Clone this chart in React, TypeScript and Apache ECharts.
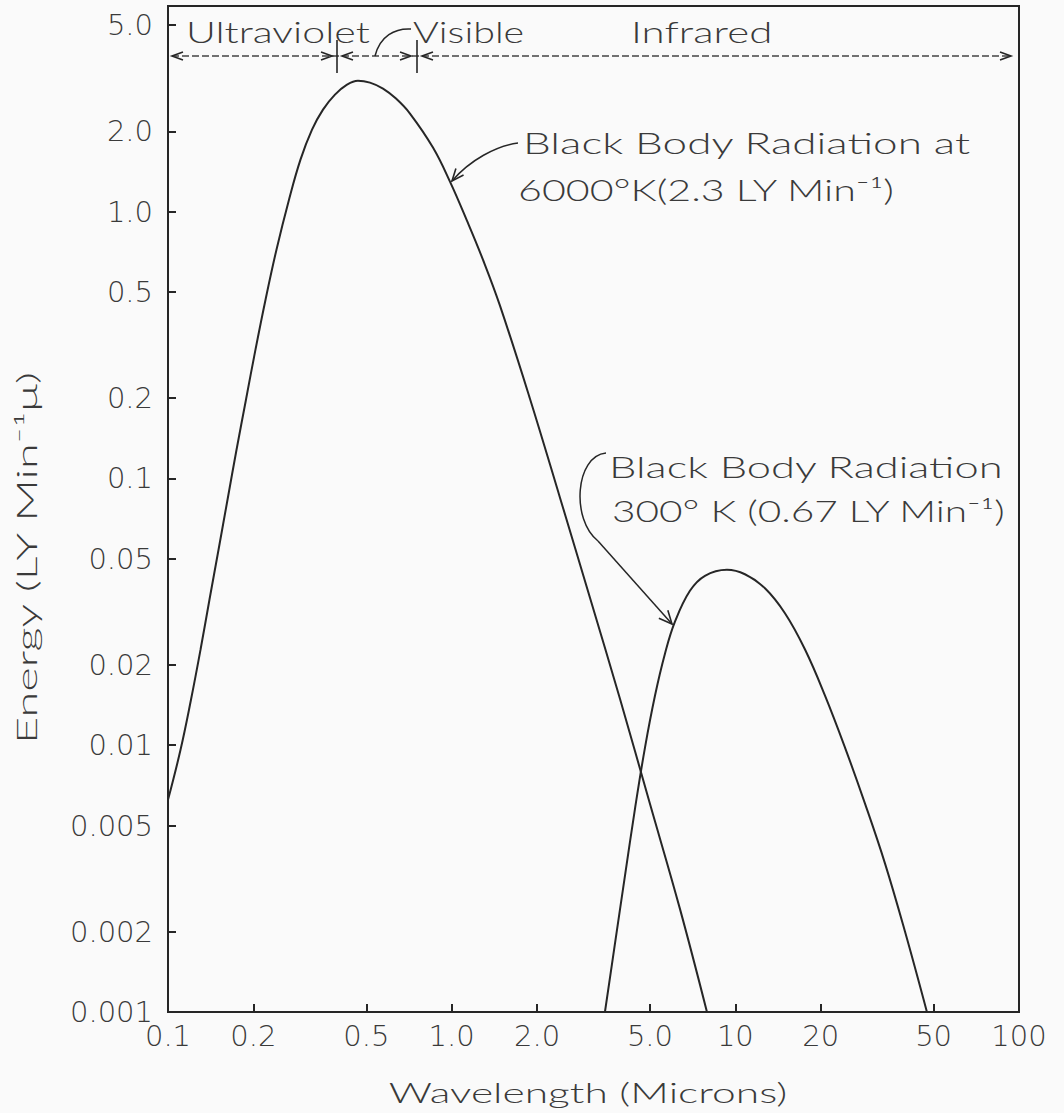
import React, { useEffect, useRef } from 'react';
import * as echarts from 'echarts';

// Black body radiation at 6000 K (wavelength in microns, energy in LY min^-1 micron^-1)
const wavelength6000 = [0.1, 0.1107, 0.1205, 0.1302, 0.14, 0.1507, 0.1621, 0.1744, 0.1883, 0.2034, 0.2207, 0.2412, 0.267, 0.2931, 0.3219, 0.3519, 0.3878, 0.4276, 0.4674, 0.5152, 0.5727, 0.6364, 0.7129, 0.8592, 0.9863, 1.132, 1.289, 1.48, 1.888, 2.409, 3.073, 3.92, 5.0, 6.379, 7.943];
const energy6000 = [0.00624, 0.00961, 0.0148, 0.02279, 0.0351, 0.05403, 0.08321, 0.1281, 0.1973, 0.3039, 0.4677, 0.7203, 1.109, 1.567, 2.03, 2.413, 2.746, 2.994, 3.098, 3.045, 2.892, 2.653, 2.331, 1.738, 1.296, 0.9253, 0.6607, 0.4442, 0.199, 0.0847, 0.0357, 0.01493, 0.00603, 0.002435, 0.001];

// Black body radiation at 300 K
const wavelength300 = [3.47, 3.763, 4.082, 4.428, 4.801, 5.208, 5.648, 6.126, 6.918, 7.814, 9.342, 10.81, 12.72, 14.96, 17.59, 20.69, 24.34, 28.63, 33.69, 39.61, 47.36];
const energy300 = [0.001, 0.0018, 0.003237, 0.005776, 0.009777, 0.01532, 0.02202, 0.02903, 0.03792, 0.04317, 0.04546, 0.04374, 0.03876, 0.03124, 0.02289, 0.01538, 0.00982, 0.006054, 0.003607, 0.002006, 0.001];

const xTickValues = [0.1, 0.2, 0.5, 1, 2, 5, 10, 20, 50, 100];
const xTickLabels = ['0.1', '0.2', '0.5', '1.0', '2.0', '5.0', '10', '20', '50', '100'];
const yTickValues = [0.001, 0.002, 0.005, 0.01, 0.02, 0.05, 0.1, 0.2, 0.5, 1, 2, 5];
const yTickLabels = ['0.001', '0.002', '0.005', '0.01', '0.02', '0.05', '0.1', '0.2', '0.5', '1.0', '2.0', '5.0'];

const X_MIN = 0.1;
const X_MAX = 100;
const Y_MIN = 0.001;
const Y_MAX = 5.9;

const FONT = 'Lato, "DejaVu Sans", sans-serif';
const TICK_FONT = '"DejaVu Sans", Lato, sans-serif';
const INK = '#262626';
const TEXT = '#3a3a3a';

const labelFor = (vals: number[], labels: string[]) => (v: number) => {
  for (let i = 0; i < vals.length; i++) {
    if (Math.abs(Math.log10(vals[i]) - v) < 1e-6) return labels[i];
  }
  return '';
};

const arrowHead = (tip: number[], from: number[], len = 12, half = 5) => {
  const dx = tip[0] - from[0];
  const dy = tip[1] - from[1];
  const d = Math.hypot(dx, dy);
  const ux = dx / d;
  const uy = dy / d;
  const bx = tip[0] - ux * len;
  const by = tip[1] - uy * len;
  return {
    type: 'polyline',
    shape: { points: [[bx - uy * half, by + ux * half], tip, [bx + uy * half, by - ux * half]] },
    style: { stroke: INK, lineWidth: 1.6, fill: null },
    z: 10,
  };
};

const txt = (text: string, x: number, y: number, size: number, sx: number, align = 'left', rotation = 0) => ({
  type: 'text',
  x,
  y,
  z: 10,
  scaleX: sx,
  rotation,
  style: {
    text,
    fill: TEXT,
    font: `300 ${size}px ${FONT}`,
    align,
    verticalAlign: 'middle',
  },
});

export default function App() {
  const ref = useRef<HTMLDivElement>(null);

  useEffect(() => {
    if (!ref.current) return;
    const chart = echarts.init(ref.current, undefined, { renderer: 'svg' });

    const DASH_Y = 56;
    const graphics: any[] = [
      txt('Ultraviolet', 186, 32, 29, 1.42),
      txt('Visible', 413, 32, 29, 1.36),
      txt('Infrared', 631, 32, 29, 1.45),
      {
        type: 'line',
        z: 10,
        shape: { x1: 172, y1: DASH_Y, x2: 1011, y2: DASH_Y },
        style: { stroke: '#444', lineWidth: 1.4, lineDash: [7, 3] },
      },
      arrowHead([172, DASH_Y], [200, DASH_Y], 11, 4),
      arrowHead([332, DASH_Y], [300, DASH_Y], 11, 4),
      arrowHead([342, DASH_Y], [370, DASH_Y], 11, 4),
      arrowHead([411, DASH_Y], [380, DASH_Y], 11, 4),
      arrowHead([422, DASH_Y], [450, DASH_Y], 11, 4),
      arrowHead([1011, DASH_Y], [980, DASH_Y], 11, 4),
      { type: 'line', z: 10, shape: { x1: 337, y1: 40, x2: 337, y2: 73 }, style: { stroke: INK, lineWidth: 1.6 } },
      { type: 'line', z: 10, shape: { x1: 417, y1: 40, x2: 417, y2: 73 }, style: { stroke: INK, lineWidth: 1.6 } },
      {
        type: 'bezierCurve',
        z: 10,
        shape: { x1: 375, y1: DASH_Y, cpx1: 380, cpy1: 36, cpx2: 395, cpy2: 28, x2: 411, y2: 29 },
        style: { stroke: INK, lineWidth: 1.5, fill: null },
      },
      // 6000 K annotation
      txt('Black Body Radiation at', 523, 143, 29, 1.52),
      txt('6000°K(2.3 LY Min⁻¹)', 518, 190, 29, 1.42),
      {
        type: 'bezierCurve',
        z: 10,
        shape: { x1: 518, y1: 143, cpx1: 496, cpy1: 146, cpx2: 470, cpy2: 160, x2: 452, y2: 181 },
        style: { stroke: INK, lineWidth: 1.5, fill: null },
      },
      arrowHead([452, 181], [468, 162], 12, 5),
      // 300 K annotation
      txt('Black Body Radiation', 609, 467, 29, 1.5),
      txt('300° K (0.67 LY Min⁻¹)', 612, 511, 29, 1.4),
      {
        type: 'bezierCurve',
        z: 10,
        shape: { x1: 606, y1: 453, cpx1: 575, cpy1: 456, cpx2: 571, cpy2: 520, x2: 598, y2: 541 },
        style: { stroke: INK, lineWidth: 1.5, fill: null },
      },
      {
        type: 'line',
        z: 10,
        shape: { x1: 598, y1: 541, x2: 672, y2: 624 },
        style: { stroke: INK, lineWidth: 1.5 },
      },
      arrowHead([672, 624], [598, 541], 13, 6),
      // axis titles
      txt('Wavelength (Microns)', 588, 1092, 28, 1.52, 'center'),
      txt('Energy (LY Min⁻¹μ)', 26, 558, 28, 1.68, 'center', Math.PI / 2),
    ];

    const option: any = {
      animation: false,
      backgroundColor: '#fafafa',
      textStyle: { fontFamily: FONT },
      grid: {
        left: 168,
        top: 6,
        width: 851,
        height: 1006,
        show: true,
        borderColor: INK,
        borderWidth: 2,
        backgroundColor: 'transparent',
      },
      xAxis: [
        { type: 'log', logBase: 10, min: X_MIN, max: X_MAX, show: false },
        {
          type: 'value',
          min: Math.log10(X_MIN),
          max: Math.log10(X_MAX),
          position: 'bottom',
          axisLine: { show: false },
          splitLine: { show: false },
          axisTick: {
            show: true,
            inside: true,
            length: 8,
            customValues: xTickValues.map((v) => Math.log10(v)),
            lineStyle: { color: INK, width: 2 },
          },
          axisLabel: {
            customValues: xTickValues.map((v) => Math.log10(v)),
            formatter: labelFor(xTickValues, xTickLabels),
            margin: 9,
            fontSize: 29,
            fontWeight: 200,
            color: TEXT,
            fontFamily: TICK_FONT,
          },
        },
      ],
      yAxis: [
        { type: 'log', logBase: 10, min: Y_MIN, max: Y_MAX, show: false },
        {
          type: 'value',
          min: Math.log10(Y_MIN),
          max: Math.log10(Y_MAX),
          position: 'left',
          axisLine: { show: false },
          splitLine: { show: false },
          axisTick: {
            show: true,
            inside: true,
            length: 8,
            customValues: yTickValues.map((v) => Math.log10(v)),
            lineStyle: { color: INK, width: 2 },
          },
          axisLabel: {
            customValues: yTickValues.map((v) => Math.log10(v)),
            formatter: labelFor(yTickValues, yTickLabels),
            margin: 15,
            fontSize: 29,
            fontWeight: 200,
            color: TEXT,
            fontFamily: TICK_FONT,
          },
        },
      ],
      series: [
        {
          name: '6000 K',
          type: 'line',
          xAxisIndex: 0,
          yAxisIndex: 0,
          data: wavelength6000.map((x, i) => [x, energy6000[i]]),
          symbol: 'none',
          smooth: 0.4,
          lineStyle: { color: INK, width: 2 },
          clip: true,
        },
        {
          name: '300 K',
          type: 'line',
          xAxisIndex: 0,
          yAxisIndex: 0,
          data: wavelength300.map((x, i) => [x, energy300[i]]),
          symbol: 'none',
          smooth: 0.4,
          lineStyle: { color: INK, width: 2 },
          clip: true,
        },
      ],
      graphic: graphics,
    };

    chart.setOption(option);
    return () => chart.dispose();
  }, []);

  return <div ref={ref} style={{ position: 'absolute', left: 0, top: 0, width: 1064, height: 1113 }} />;
}
